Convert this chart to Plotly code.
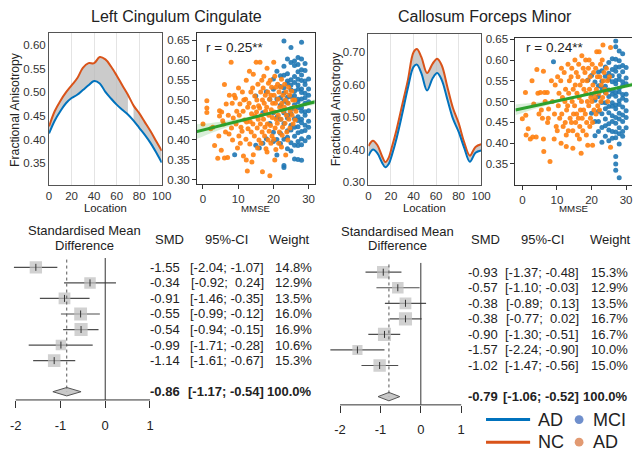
import plotly.graph_objects as go

W, H = 642, 456
FONT = "Liberation Sans, Arial, sans-serif"
TXT = "#222222"


def px(x):
    return x / W


def py(y):
    return 1 - y / H


# ---------------- data ----------------
titles = ["Left Cingulum Cingulate", "Callosum Forceps Minor"]

loc_left = [0, 5, 10, 15, 20, 25, 30, 35, 40, 45, 50, 55, 60, 65, 70, 75, 80, 85, 90, 95, 100]
nc_left = [0.428, 0.460, 0.482, 0.500, 0.515, 0.530, 0.552, 0.562, 0.562, 0.575, 0.570,
           0.555, 0.536, 0.515, 0.495, 0.472, 0.456, 0.437, 0.418, 0.397, 0.376]
ad_left = [0.413, 0.440, 0.460, 0.477, 0.488, 0.495, 0.505, 0.515, 0.524, 0.519, 0.501,
           0.487, 0.474, 0.463, 0.453, 0.440, 0.425, 0.410, 0.393, 0.373, 0.351]
sig_left = [(0, 70), (75, 100)]

loc_right = [0, 4, 8, 12, 15, 18, 21, 25, 30, 35, 40, 43, 47, 52, 57, 61, 65, 70, 75, 80, 85, 90, 95, 100]
nc_right = [0.411, 0.427, 0.413, 0.380, 0.361, 0.375, 0.410, 0.462, 0.538, 0.614, 0.700, 0.710,
            0.685, 0.636, 0.665, 0.680, 0.660, 0.594, 0.528, 0.482, 0.422, 0.381, 0.408, 0.416]
ad_right = [0.380, 0.400, 0.388, 0.360, 0.345, 0.355, 0.385, 0.435, 0.510, 0.590, 0.655, 0.662,
            0.635, 0.582, 0.620, 0.636, 0.615, 0.555, 0.495, 0.455, 0.405, 0.362, 0.390, 0.397]
sig_right = [(0, 100)]

# scatter: (MMSE, FA)
ad_pts_left = [
    (0.0, 0.440), (1.1, 0.498), (1.1, 0.480), (1.1, 0.469), (2.2, 0.428), (3.3, 0.386), (2.8, 0.432),
    (4.2, 0.354), (4.7, 0.473), (4.7, 0.460), (4.5, 0.410), (5.3, 0.470), (5.6, 0.448), (5.2, 0.374),
    (6.1, 0.539), (6.1, 0.355), (6.4, 0.420), (6.6, 0.490), (5.9, 0.440), (7.0, 0.356), (7.5, 0.512),
    (7.2, 0.462), (7.4, 0.415), (8.0, 0.595), (8.9, 0.512), (8.3, 0.492), (8.6, 0.455), (8.1, 0.430),
    (8.4, 0.400), (9.2, 0.505), (9.6, 0.472), (9.4, 0.440), (9.8, 0.380), (10.1, 0.530), (10.5, 0.490),
    (10.3, 0.462), (10.8, 0.432), (10.2, 0.410), (10.6, 0.392), (11.2, 0.520), (11.6, 0.500),
    (11.4, 0.472), (11.8, 0.450), (11.1, 0.422), (11.5, 0.360), (12.3, 0.550), (12.1, 0.502),
    (12.7, 0.482), (12.4, 0.445), (12.8, 0.428), (12.2, 0.402), (12.3, 0.350), (12.6, 0.322),
    (13.2, 0.572), (13.6, 0.520), (13.1, 0.492), (13.8, 0.466), (13.4, 0.446), (13.7, 0.420),
    (13.3, 0.390), (13.9, 0.345), (14.3, 0.565), (14.1, 0.530), (14.7, 0.510), (14.4, 0.482),
    (14.8, 0.460), (14.2, 0.440), (14.6, 0.410), (14.3, 0.363), (15.1, 0.595), (15.6, 0.540),
    (15.3, 0.500), (15.8, 0.486), (15.2, 0.470), (15.7, 0.452), (15.4, 0.430), (15.9, 0.400),
    (15.5, 0.380), (16.2, 0.595), (16.7, 0.550), (16.4, 0.520), (16.9, 0.500), (16.1, 0.480),
    (16.6, 0.462), (16.3, 0.440), (16.8, 0.420), (16.5, 0.392), (16.9, 0.320), (17.3, 0.560),
    (17.1, 0.530), (17.7, 0.512), (17.4, 0.492), (17.8, 0.472), (17.2, 0.452), (17.6, 0.432),
    (17.5, 0.410), (17.9, 0.378), (18.2, 0.580), (18.6, 0.542), (18.4, 0.520), (18.9, 0.502),
    (18.1, 0.482), (18.7, 0.462), (18.3, 0.440), (18.8, 0.422), (18.5, 0.400), (18.2, 0.370),
    (19.1, 0.550), (19.5, 0.532), (19.3, 0.512), (19.8, 0.492), (19.4, 0.476), (19.7, 0.456),
    (19.2, 0.436), (19.6, 0.410), (19.3, 0.392), (19.0, 0.310), (20.1, 0.595), (20.4, 0.560),
    (20.7, 0.532), (20.2, 0.512), (20.6, 0.492), (20.3, 0.470), (20.8, 0.452), (20.5, 0.430),
    (20.1, 0.402), (20.7, 0.376), (20.4, 0.350), (21.2, 0.540), (21.6, 0.520), (21.3, 0.502),
    (21.8, 0.482), (21.4, 0.462), (21.1, 0.442), (21.7, 0.420), (21.5, 0.392), (22.3, 0.552),
    (22.1, 0.532), (22.7, 0.512), (22.4, 0.492), (22.8, 0.472), (22.2, 0.452), (22.6, 0.432),
    (22.5, 0.412), (22.3, 0.382), (23.2, 0.540), (23.6, 0.520), (23.4, 0.500), (23.1, 0.482),
    (23.7, 0.462), (23.3, 0.442), (23.8, 0.420), (23.5, 0.362), (24.3, 0.532), (24.6, 0.512),
    (24.2, 0.492), (24.8, 0.472), (24.4, 0.452), (24.7, 0.430), (24.1, 0.400), (25.2, 0.522),
    (25.5, 0.500), (25.8, 0.482), (25.3, 0.462), (25.6, 0.440), (26.1, 0.500), (26.4, 0.472),
    (26.2, 0.450),
]
mci_cols_left = {
    9: [0.363], 15: [0.510, 0.387], 16: [0.380], 17: [0.392, 0.468], 18: [0.521, 0.403],
    19: [0.502, 0.441], 20: [0.553, 0.527, 0.468, 0.419, 0.396],
    21: [0.572, 0.503, 0.457, 0.401, 0.362],
    22: [0.561, 0.534, 0.506, 0.487, 0.452, 0.417, 0.391],
    23: [0.648, 0.585, 0.562, 0.531, 0.518, 0.497, 0.474, 0.468, 0.441, 0.402, 0.331, 0.336],
    24: [0.603, 0.566, 0.548, 0.541, 0.507, 0.493, 0.462, 0.455, 0.423, 0.407, 0.378],
    25: [0.632, 0.594, 0.551, 0.538, 0.526, 0.509, 0.478, 0.466, 0.437, 0.425, 0.393, 0.372],
    26: [0.598, 0.587, 0.559, 0.544, 0.522, 0.511, 0.488, 0.479, 0.453, 0.432, 0.409, 0.387, 0.352],
    27: [0.607, 0.589, 0.571, 0.552, 0.538, 0.527, 0.502, 0.496, 0.481, 0.458, 0.449, 0.433,
         0.418, 0.396, 0.386, 0.351],
    28: [0.645, 0.603, 0.576, 0.563, 0.549, 0.528, 0.519, 0.503, 0.481, 0.472, 0.452, 0.443,
         0.421, 0.403, 0.388, 0.349],
    29: [0.592, 0.574, 0.548, 0.539, 0.517, 0.506, 0.492, 0.471, 0.462, 0.437, 0.424, 0.398],
    30: [0.553, 0.528, 0.512, 0.496, 0.473, 0.447, 0.432, 0.407],
}

ad_pts_right = [
    (0.0, 0.459), (0.9, 0.522), (1.0, 0.467), (1.1, 0.420), (1.7, 0.435), (2.3, 0.410),
    (2.8, 0.550), (3.3, 0.494), (3.0, 0.415), (4.2, 0.577), (4.5, 0.520), (4.0, 0.415),
    (4.8, 0.470), (5.2, 0.522), (5.5, 0.480), (5.8, 0.460), (6.1, 0.573), (6.4, 0.522),
    (6.1, 0.410), (6.2, 0.380), (6.6, 0.500), (7.2, 0.522), (7.6, 0.482), (7.5, 0.460),
    (7.3, 0.450), (8.0, 0.356), (8.4, 0.550), (8.7, 0.500), (9.2, 0.410), (9.5, 0.540),
    (9.3, 0.470), (9.8, 0.440), (10.2, 0.560), (10.6, 0.520), (10.4, 0.490), (10.8, 0.460),
    (10.1, 0.430), (11.3, 0.580), (11.1, 0.550), (11.6, 0.510), (11.4, 0.470), (11.8, 0.440),
    (11.2, 0.400), (12.1, 0.570), (12.5, 0.530), (12.3, 0.500), (12.8, 0.480), (12.4, 0.450),
    (12.7, 0.420), (13.2, 0.590), (13.6, 0.550), (13.4, 0.520), (13.1, 0.490), (13.8, 0.460),
    (13.3, 0.430), (12.7, 0.392), (14.3, 0.580), (14.1, 0.560), (14.7, 0.530), (14.4, 0.500),
    (14.8, 0.470), (14.2, 0.450), (14.6, 0.430), (14.6, 0.388), (15.2, 0.600), (15.6, 0.570),
    (15.3, 0.540), (15.8, 0.520), (15.1, 0.490), (15.7, 0.470), (15.4, 0.450), (15.9, 0.420),
    (16.3, 0.590), (16.1, 0.560), (16.7, 0.540), (16.4, 0.510), (16.8, 0.480), (16.2, 0.460),
    (16.6, 0.440), (16.5, 0.410), (17.2, 0.610), (17.6, 0.580), (17.4, 0.550), (17.8, 0.530),
    (17.1, 0.500), (17.7, 0.480), (17.3, 0.460), (17.5, 0.430), (17.0, 0.376), (18.3, 0.600),
    (18.1, 0.570), (18.7, 0.550), (18.4, 0.520), (18.8, 0.500), (18.2, 0.470), (18.6, 0.450),
    (18.5, 0.420), (19.3, 0.600), (19.1, 0.580), (19.6, 0.560), (19.4, 0.530), (19.8, 0.510),
    (19.2, 0.490), (19.7, 0.460), (19.5, 0.440), (18.9, 0.395), (20.2, 0.590), (20.6, 0.570),
    (20.4, 0.540), (20.8, 0.520), (20.1, 0.500), (20.7, 0.480), (20.3, 0.450), (20.3, 0.395),
    (21.5, 0.620), (21.2, 0.580), (21.7, 0.560), (21.4, 0.530), (21.1, 0.510), (21.8, 0.490),
    (21.3, 0.470), (22.2, 0.620), (22.6, 0.590), (22.4, 0.560), (22.8, 0.540), (22.1, 0.520),
    (22.7, 0.500), (22.3, 0.480), (23.3, 0.636), (23.1, 0.600), (23.6, 0.570), (23.4, 0.550),
    (23.8, 0.530), (23.2, 0.510), (24.3, 0.580), (24.6, 0.550), (24.2, 0.520), (24.7, 0.500),
    (25.5, 0.630), (25.2, 0.560), (25.5, 0.390),
]
mci_cols_right = {
    9: [0.596], 19: [0.552], 20: [0.563, 0.518, 0.472], 21: [0.547, 0.503, 0.452, 0.418],
    22: [0.571, 0.538, 0.512, 0.477, 0.452, 0.428],
    23: [0.574, 0.549, 0.533, 0.498, 0.471, 0.438, 0.402],
    24: [0.583, 0.561, 0.537, 0.522, 0.497, 0.483, 0.458, 0.442, 0.417],
    25: [0.594, 0.568, 0.553, 0.528, 0.512, 0.488, 0.473, 0.447, 0.432, 0.406],
    26: [0.603, 0.577, 0.562, 0.548, 0.527, 0.518, 0.497, 0.489, 0.466, 0.452, 0.428, 0.412],
    27: [0.646, 0.632, 0.602, 0.583, 0.573, 0.551, 0.543, 0.522, 0.513, 0.492, 0.483, 0.462,
         0.448, 0.427, 0.413, 0.368, 0.350, 0.335],
    28: [0.622, 0.598, 0.583, 0.562, 0.553, 0.532, 0.523, 0.502, 0.493, 0.472, 0.458, 0.437,
         0.423, 0.398, 0.317],
    29: [0.615, 0.587, 0.572, 0.548, 0.538, 0.517, 0.508, 0.487, 0.468, 0.452, 0.428, 0.417],
    30: [0.582, 0.557, 0.543, 0.518, 0.503, 0.478, 0.462, 0.437],
}

r_text = ["r = 0.25**", "r = 0.24**"]
fit_left = (0.4248, 0.00222)   # intercept, slope
fit_right = (0.4836, 0.00180)
fit_ci_x = [-2, 0, 5, 10, 15, 20, 25, 30, 32]
fit_ci_left = [0.019, 0.016, 0.010, 0.006, 0.004, 0.003, 0.004, 0.006, 0.007]
fit_ci_right = [0.013, 0.011, 0.007, 0.004, 0.003, 0.003, 0.004, 0.005, 0.006]

smd_left = [-1.55, -0.34, -0.91, -0.55, -0.54, -0.99, -1.14]
lo_left = [-2.04, -0.92, -1.46, -0.99, -0.94, -1.71, -1.61]
hi_left = [-1.07, 0.24, -0.35, -0.12, -0.15, -0.28, -0.67]
w_left = [14.8, 12.9, 13.5, 16.0, 16.9, 10.6, 15.3]
sum_left = (-0.86, -1.17, -0.54, 100.0)

smd_right = [-0.93, -0.57, -0.38, -0.38, -0.90, -1.57, -1.02]
lo_right = [-1.37, -1.10, -0.89, -0.77, -1.30, -2.24, -1.47]
hi_right = [-0.48, -0.03, 0.13, 0.02, -0.51, -0.90, -0.56]
w_right = [15.3, 12.9, 13.5, 16.7, 16.7, 10.0, 15.0]
sum_right = (-0.79, -1.06, -0.52, 100.0)

forest_ticks = [-2, -1, 0, 1]

# ---------------- style ----------------
C_NC = "#D95319"
C_AD = "#0072BD"
C_MCI_S = "#1f77b4"
C_AD_S = "#ff7f0e"
C_FIT = "#2ca02c"

fig = go.Figure()
annotations = []
shapes = []


def add_line_panel(xa, ya, loc, nc, ad, sig):
    for a, b in sig:
        idx = [i for i, v in enumerate(loc) if a <= v <= b]
        fig.add_trace(go.Scatter(x=[loc[i] for i in idx], y=[ad[i] for i in idx], mode="lines",
                                 line=dict(width=0, shape="spline"), xaxis=xa, yaxis=ya,
                                 showlegend=False, hoverinfo="skip"))
        fig.add_trace(go.Scatter(x=[loc[i] for i in idx], y=[nc[i] for i in idx], mode="lines",
                                 line=dict(width=0, shape="spline"), fill="tonexty",
                                 fillcolor="rgba(185,185,185,0.75)", xaxis=xa, yaxis=ya,
                                 showlegend=False, hoverinfo="skip"))
    fig.add_trace(go.Scatter(x=loc, y=nc, mode="lines", line=dict(color=C_NC, width=2, shape="spline"),
                             xaxis=xa, yaxis=ya, showlegend=False))
    fig.add_trace(go.Scatter(x=loc, y=ad, mode="lines", line=dict(color=C_AD, width=2, shape="spline"),
                             xaxis=xa, yaxis=ya, showlegend=False))


def add_scatter_panel(xa, ya, mci_cols, ad_pts, fit, ci):
    mx, my = [], []
    for k, vals in mci_cols.items():
        for v in vals:
            mx.append(k)
            my.append(v)
    fig.add_trace(go.Scatter(x=mx, y=my, mode="markers", xaxis=xa, yaxis=ya, showlegend=False,
                             marker=dict(color=C_MCI_S, size=5, opacity=0.9, line=dict(width=0))))
    fig.add_trace(go.Scatter(x=[p[0] for p in ad_pts], y=[p[1] for p in ad_pts], mode="markers",
                             xaxis=xa, yaxis=ya, showlegend=False,
                             marker=dict(color=C_AD_S, size=5, opacity=0.9, line=dict(width=0))))
    b0, b1 = fit
    yc = [b0 + b1 * x for x in fit_ci_x]
    fig.add_trace(go.Scatter(x=fit_ci_x, y=[c - h for c, h in zip(yc, ci)], mode="lines",
                             line=dict(width=0, shape="spline"), xaxis=xa, yaxis=ya,
                             showlegend=False, hoverinfo="skip"))
    fig.add_trace(go.Scatter(x=fit_ci_x, y=[c + h for c, h in zip(yc, ci)], mode="lines",
                             line=dict(width=0, shape="spline"), fill="tonexty",
                             fillcolor="rgba(44,160,44,0.18)", xaxis=xa, yaxis=ya,
                             showlegend=False, hoverinfo="skip"))
    fig.add_trace(go.Scatter(x=[fit_ci_x[0], fit_ci_x[-1]], y=[yc[0], yc[-1]], mode="lines",
                             line=dict(color=C_FIT, width=3), xaxis=xa, yaxis=ya, showlegend=False))


def add_forest(xa, ya, smd, lo, hi, w, summ, x_smd, x_ci, x_w):
    n = len(smd)
    rows = list(range(1, n + 1))
    for r, l, h in zip(rows, lo, hi):
        fig.add_trace(go.Scatter(x=[l, h], y=[r, r], mode="lines", line=dict(color="#4d4d4d", width=1.2),
                                 xaxis=xa, yaxis=ya, showlegend=False))
    fig.add_trace(go.Scatter(x=smd, y=rows, mode="markers", xaxis=xa, yaxis=ya, showlegend=False,
                             marker=dict(symbol="square", color="#bdbdbd",
                                         size=[3.2 * (v ** 0.5) for v in w], line=dict(width=0))))
    fig.add_trace(go.Scatter(x=smd, y=rows, mode="markers", xaxis=xa, yaxis=ya, showlegend=False,
                             marker=dict(symbol="line-ns", size=5, line=dict(width=1, color="#333"))))
    est, slo, shi, sw = summ
    srow = n + 2
    hh = 0.27
    fig.add_trace(go.Scatter(x=[slo, est, shi, est, slo], y=[srow, srow - hh, srow, srow + hh, srow],
                             mode="lines", fill="toself", fillcolor="#c8c8c8",
                             line=dict(color="#555", width=1), xaxis=xa, yaxis=ya, showlegend=False))
    shapes.append(dict(type="line", xref=xa, yref=ya + " domain", x0=forest_ticks[0],
                       x1=forest_ticks[-1], y0=0, y1=0, line=dict(color="#333", width=1)))
    shapes.append(dict(type="line", xref=xa, yref=ya, x0=0, x1=0, y0=0.4, y1=srow + 0.53,
                       line=dict(color="#333", width=1)))
    shapes.append(dict(type="line", xref=xa, yref=ya, x0=est, x1=est, y0=0.5, y1=srow,
                       line=dict(color="#555", width=1, dash="dot")))

    def fmt(v):
        return f"{v:.2f}"

    def ci_txt(l, h):
        hs = fmt(h) if h < 0 else "\u00a0\u00a0" + fmt(h)
        return f"[{fmt(l)};{hs if h >= 0 else ' ' + hs}]"

    items = [(r, fmt(s), ci_txt(l, h), f"{ww:.1f}%", False) for r, s, l, h, ww in zip(rows, smd, lo, hi, w)]
    items.append((srow, fmt(est), ci_txt(slo, shi), f"{sw:.1f}%", True))
    for r, s, c, wt, bold in items:
        for xx, t in ((x_smd, s), (x_ci, c), (x_w, wt)):
            annotations.append(dict(x=px(xx), xref="paper", y=r, yref=ya, text=f"<b>{t}</b>" if bold else t,
                                    xanchor="right", yanchor="middle", showarrow=False,
                                    font=dict(family=FONT, size=13, color=TXT)))


add_line_panel("x", "y", loc_left, nc_left, ad_left, sig_left)
add_scatter_panel("x2", "y2", mci_cols_left, ad_pts_left, fit_left, fit_ci_left)
add_line_panel("x3", "y3", loc_right, nc_right, ad_right, sig_right)
add_scatter_panel("x4", "y4", mci_cols_right, ad_pts_right, fit_right, fit_ci_right)
add_forest("x5", "y5", smd_left, lo_left, hi_left, w_left, sum_left, 183, 268, 317)
add_forest("x6", "y6", smd_right, lo_right, hi_right, w_right, sum_right, 507, 590, 640)

tickfont = dict(family=FONT, size=11.5, color="#333")

line_x = dict(range=[0, 100], tickvals=[0, 20, 40, 60, 80, 100], showgrid=True, gridcolor="#e4e4e4",
              gridwidth=1, showline=True, linecolor="#555", linewidth=1, mirror=True, ticks="",
              zeroline=False, tickfont=tickfont)
line_y = dict(showgrid=False, showline=True, linecolor="#555", linewidth=1, mirror=True, ticks="",
              zeroline=False, tickfont=tickfont, tickformat=".2f")
sc_x = dict(tickvals=[0, 10, 20, 30], showgrid=False, showline=True, linecolor="#333", linewidth=1,
            mirror=True, ticks="outside", ticklen=4, tickcolor="#333", zeroline=False, tickfont=tickfont)
sc_y = dict(showgrid=False, showline=True, linecolor="#333", linewidth=1, mirror=True,
            ticks="outside", ticklen=4, tickcolor="#333", zeroline=False, tickfont=tickfont,
            tickformat=".2f")
fo_x = dict(tickvals=forest_ticks, ticktext=[str(t) for t in forest_ticks], showgrid=False,
            showline=False, zeroline=False, ticks="outside", ticklen=7, tickcolor="#333",
            tickfont=dict(family=FONT, size=13, color=TXT), ticklabelstandoff=6)
fo_y = dict(visible=False, showgrid=False, zeroline=False)

layout = dict(
    width=W, height=H, margin=dict(l=0, r=0, t=0, b=0), autosize=False,
    paper_bgcolor="white", plot_bgcolor="white", showlegend=False,
    xaxis=dict(line_x, domain=[px(47), px(162)], anchor="y"),
    yaxis=dict(line_y, domain=[py(183), py(29)], range=[0.304, 0.625],
               tickvals=[0.35, 0.40, 0.45, 0.50, 0.55, 0.60], anchor="x"),
    xaxis2=dict(sc_x, domain=[px(198), px(318)], range=[-1.7, 31.7], anchor="y2"),
    yaxis2=dict(sc_y, domain=[py(182), py(29)], range=[0.29, 0.667],
                tickvals=[0.30, 0.35, 0.40, 0.45, 0.50, 0.55, 0.60, 0.65], anchor="x2"),
    xaxis3=dict(line_x, domain=[px(373), px(488)], anchor="y3"),
    yaxis3=dict(line_y, domain=[py(183), py(30)], range=[0.291, 0.755],
                tickvals=[0.30, 0.40, 0.50, 0.60, 0.70], anchor="x3"),
    xaxis4=dict(sc_x, domain=[px(523), 1.0], range=[-2, 31.7], anchor="y4"),
    yaxis4=dict(sc_y, domain=[py(183), py(34)], range=[0.30, 0.652], mirror=False,
                tickvals=[0.35, 0.40, 0.45, 0.50, 0.55, 0.60, 0.65], anchor="x4"),
    xaxis5=dict(fo_x, domain=[px(8.4), px(154.6)], range=[-2.1, 1.1], anchor="y5"),
    yaxis5=dict(fo_y, domain=[py(402), py(255)], range=[9.53, 0.24], anchor="x5"),
    xaxis6=dict(fo_x, domain=[px(329.6), px(471.8)], range=[-2.35, 1.1], anchor="y6"),
    yaxis6=dict(fo_y, domain=[py(407), py(262)], range=[9.53, 0.37], anchor="x6"),
)


def ann(x, y, text, size, color=TXT, xanchor="center", angle=0):
    annotations.append(dict(x=px(x), y=py(y), xref="paper", yref="paper", text=text, showarrow=False,
                            xanchor=xanchor, yanchor="middle", textangle=angle,
                            font=dict(family=FONT, size=size, color=color)))


ann(177, 12, titles[0], 16)
ann(492, 12, titles[1], 16)
ann(12, 106, "Fractional Anisotropy", 12.2, angle=-90)
ann(340, 106, "Fractional Anisotropy", 12.2, angle=-90)
ann(105, 207, "Location", 11.3)
ann(430, 207, "Location", 11.3)
ann(258, 207, "MMSE", 9.7)
ann(583, 207, "MMSE", 9.7)
ann(205, 43, r_text[0], 13.5, xanchor="left")
ann(532, 43, r_text[1], 13.5, xanchor="left")

for cx, cy in ((83, 0), (403, 1)):
    ann(cx, 230 + cy, "Standardised Mean", 13)
    ann(cx, 245, "Difference", 13)
for xs, xc, xw in ((170, 228, 292), (492, 551, 620)):
    ann(xs, 239, "SMD", 13)
    ann(xc, 239, "95%-CI", 13)
    ann(xw, 239, "Weight", 13)

# legend
shapes.append(dict(type="line", xref="paper", yref="paper", x0=px(493), x1=px(538), y0=py(422), y1=py(422),
                   line=dict(color=C_AD, width=3)))
shapes.append(dict(type="line", xref="paper", yref="paper", x0=px(493), x1=px(538), y0=py(445), y1=py(445),
                   line=dict(color=C_NC, width=3)))
for cy, col in ((422, "#6f8fcc"), (445, "#e29a72")):
    shapes.append(dict(type="circle", xref="paper", yref="paper", x0=px(583.5), x1=px(592.5),
                       y0=py(cy + 4.5), y1=py(cy - 4.5), fillcolor=col, line=dict(width=0)))
ann(544, 422, "AD", 18, xanchor="left")
ann(544, 445, "NC", 18, xanchor="left")
ann(600, 422, "MCI", 18, xanchor="left")
ann(600, 445, "AD", 18, xanchor="left")

layout["annotations"] = annotations
layout["shapes"] = shapes
fig.update_layout(**layout)
fig.write_html(
    "out.html",
    config={"displayModeBar": False, "responsive": False},
    post_script="document.body.style.margin='0px';document.body.style.padding='0px';"
                "document.body.style.overflow='hidden';document.documentElement.style.overflow='hidden';",
)
